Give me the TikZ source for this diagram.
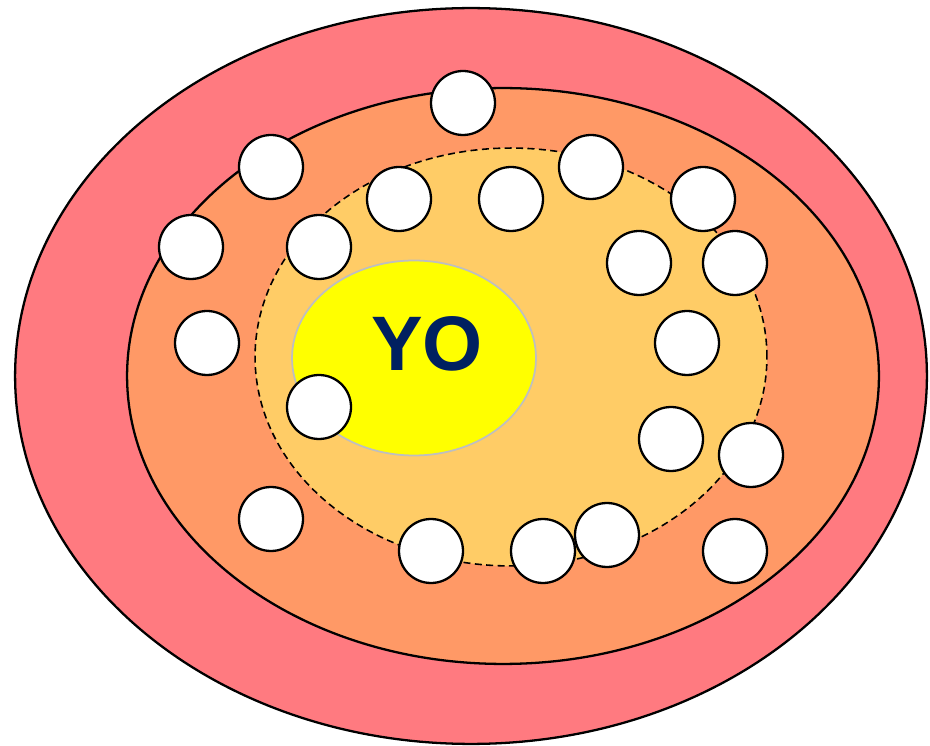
\documentclass[tikz,border=0pt]{standalone}
\usepackage{fontspec}
\setmainfont{Liberation Sans}
\usetikzlibrary{shapes.geometric}
\definecolor{ringred}{RGB}{255,122,128}
\definecolor{ringorange}{RGB}{255,153,102}
\definecolor{ringsand}{RGB}{255,204,102}
\definecolor{selfyellow}{RGB}{255,255,0}
\definecolor{selfnavy}{RGB}{0,32,96}

\begin{document}
\begin{tikzpicture}[x=0.02cm, y=-0.02cm,
  ring/.style={ellipse, draw, line width=1.3pt, inner sep=0pt, fill=#1},
  person/.style={circle, draw, line width=1.3pt, fill=white, minimum size=1.28cm, inner sep=0pt}
]
\useasboundingbox (0,0) rectangle (930,746);
\node[ring=ringred, minimum width=18.24cm, minimum height=14.72cm] (outer) at (471,376) {};
\node[ring=ringorange, minimum width=15.04cm, minimum height=11.52cm] (middle) at (503,376) {};
\node[ring=ringsand, dashed, dash pattern=on 4pt off 2.5pt, line width=0.9pt,
      minimum width=10.24cm, minimum height=8.36cm] (inner) at (511,357) {};
\node[ellipse, draw=black!25, line width=1pt, fill=selfyellow, inner sep=0pt,
      minimum width=4.88cm, minimum height=3.9cm] (self) at (414,358) {};
\node[font=\fontsize{44}{44}\bfseries, text=selfnavy] (yo) at (427,344) {YO};

\foreach \x/\y [count=\i] in {463/103, 271/167, 191/247, 207/343, 399/199,
  511/199, 591/167, 703/199, 319/247, 639/263, 735/263, 687/343, 319/407,
  671/439, 751/455, 271/519, 431/551, 543/551, 607/535, 735/551}
  \node[person] (p\i) at (\x,\y) {};
\end{tikzpicture}
\end{document}
